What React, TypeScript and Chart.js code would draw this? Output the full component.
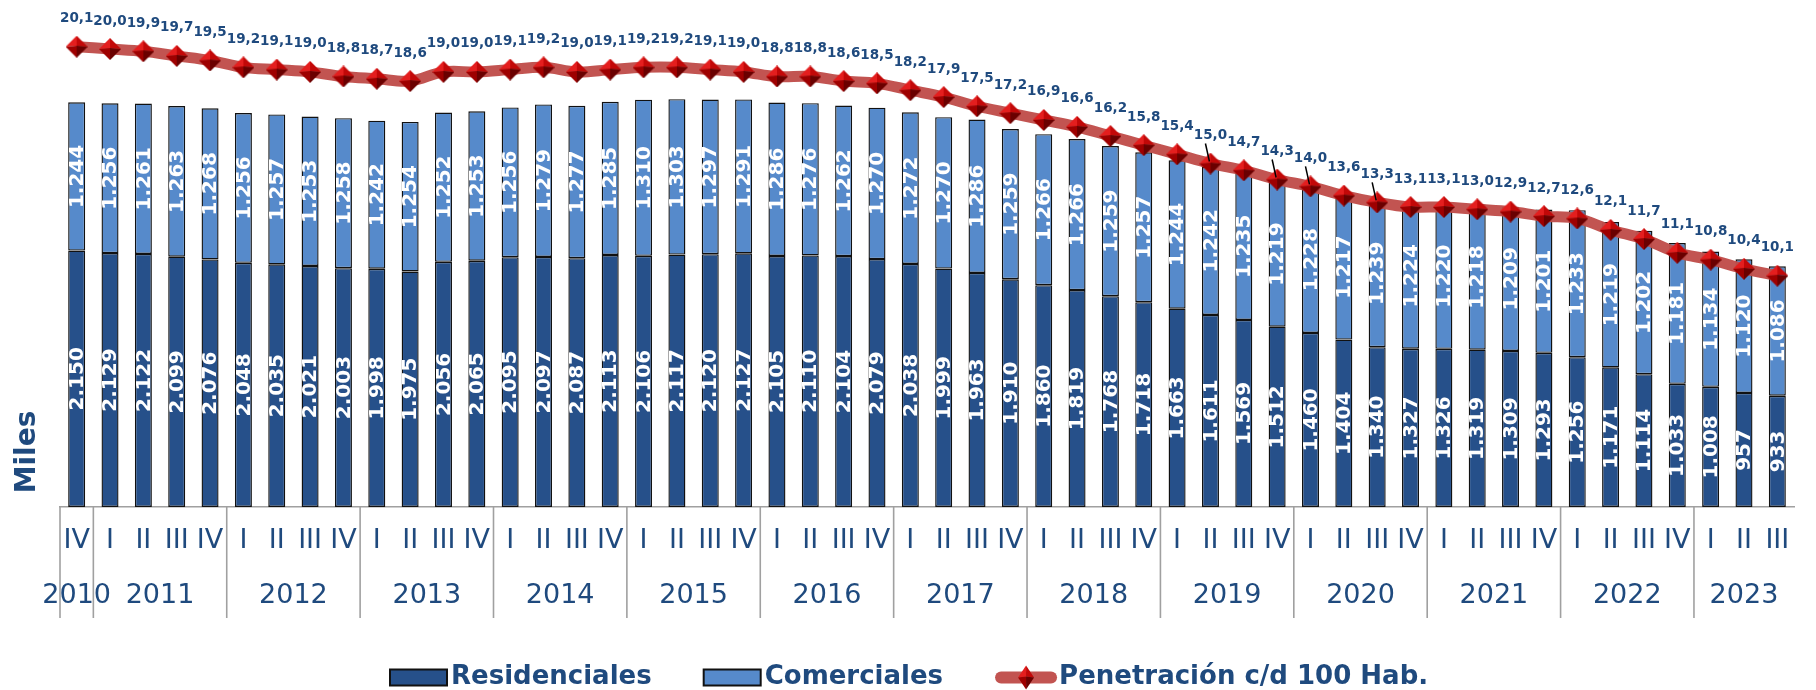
import React, { useEffect, useRef } from 'react';
import { Chart, registerables } from 'chart.js';

Chart.register(...registerables);

// ---------- DATA ----------
const years = ['2010', '2011', '2012', '2013', '2014', '2015', '2016', '2017', '2018', '2019', '2020', '2021', '2022', '2023'];
const quartersByYear = [
  ['IV'],
  ['I', 'II', 'III', 'IV'],
  ['I', 'II', 'III', 'IV'],
  ['I', 'II', 'III', 'IV'],
  ['I', 'II', 'III', 'IV'],
  ['I', 'II', 'III', 'IV'],
  ['I', 'II', 'III', 'IV'],
  ['I', 'II', 'III', 'IV'],
  ['I', 'II', 'III', 'IV'],
  ['I', 'II', 'III', 'IV'],
  ['I', 'II', 'III', 'IV'],
  ['I', 'II', 'III', 'IV'],
  ['I', 'II', 'III', 'IV'],
  ['I', 'II', 'III'],
];
const residenciales = [
  2150, 2129, 2122, 2099, 2076,
  2048, 2035, 2021, 2003,
  1998, 1975, 2056, 2065,
  2095, 2097, 2087, 2113,
  2106, 2117, 2120, 2127,
  2105, 2110, 2104, 2079,
  2038, 1999, 1963, 1910,
  1860, 1819, 1768, 1718,
  1663, 1611, 1569, 1512,
  1460, 1404, 1340, 1327,
  1326, 1319, 1309, 1293,
  1256, 1171, 1114, 1033,
  1008, 957, 933,
];
const comerciales = [
  1244, 1256, 1261, 1263, 1268,
  1256, 1257, 1253, 1258,
  1242, 1254, 1252, 1253,
  1256, 1279, 1277, 1285,
  1310, 1303, 1297, 1291,
  1286, 1276, 1262, 1270,
  1272, 1270, 1286, 1259,
  1266, 1266, 1259, 1257,
  1244, 1242, 1235, 1219,
  1228, 1217, 1239, 1224,
  1220, 1218, 1209, 1201,
  1233, 1219, 1202, 1181,
  1134, 1120, 1086,
];
const penetracion = [
  20.1, 20.0, 19.9, 19.7, 19.5,
  19.2, 19.1, 19.0, 18.8,
  18.7, 18.6, 19.0, 19.0,
  19.1, 19.2, 19.0, 19.1,
  19.2, 19.2, 19.1, 19.0,
  18.8, 18.8, 18.6, 18.5,
  18.2, 17.9, 17.5, 17.2,
  16.9, 16.6, 16.2, 15.8,
  15.4, 15.0, 14.7, 14.3,
  14.0, 13.6, 13.3, 13.1,
  13.1, 13.0, 12.9, 12.7,
  12.6, 12.1, 11.7, 11.1,
  10.8, 10.4, 10.1,
];
const leaderLabelIdx = [34, 36, 37, 39];
const seriesNames = ['Residenciales', 'Comerciales', 'Penetración c/d 100 Hab.'];
const axisTitle = 'Miles';

// ---------- STYLE ----------
const NAVY = '#1F4A7E';
const DARK = '#26508A';
const LIGHT = '#568ACB';
const RED = 'rgba(192,78,75,0.97)';
const FONT = '"DejaVu Sans", Verdana, sans-serif';

const fmtInt = (n: number) =>
  n >= 1000 ? `${Math.floor(n / 1000)}.${String(n % 1000).padStart(3, '0')}` : String(n);
const fmtDec = (v: number) => v.toFixed(1).replace('.', ',');

function drawDiamond(ctx: CanvasRenderingContext2D, cx: number, cy: number, w: number, h: number) {
  const l = cx - w / 2, r = cx + w / 2, t = cy - h / 2, b = cy + h / 2;
  const mx = cx, my = cy - h * 0.04;
  const facet = (pts: number[][], color: string) => {
    ctx.beginPath();
    ctx.moveTo(pts[0][0], pts[0][1]);
    for (let i = 1; i < pts.length; i++) ctx.lineTo(pts[i][0], pts[i][1]);
    ctx.closePath();
    ctx.fillStyle = color;
    ctx.fill();
  };
  facet([[l, cy], [cx, t], [mx, my]], '#E41E1E');
  facet([[cx, t], [r, cy], [mx, my]], '#C20808');
  facet([[l, cy], [cx, b], [mx, my]], '#9E0000');
  facet([[cx, b], [r, cy], [mx, my]], '#6A0000');
}

function makeDiamondCanvas(w: number, h: number) {
  const c = document.createElement('canvas');
  c.width = w;
  c.height = h;
  const ctx = c.getContext('2d')!;
  drawDiamond(ctx, w / 2, h / 2, w, h);
  return c;
}

export default function App() {
  const ref = useRef<HTMLCanvasElement | null>(null);

  useEffect(() => {
    if (!ref.current) return;
    const labels = quartersByYear.flat();
    const diamond = makeDiamondCanvas(22, 22);

    const overlay = {
      id: 'overlay',
      afterDatasetsDraw(chart: any) {
        const ctx = chart.ctx as CanvasRenderingContext2D;
        ctx.save();
        // bar value labels
        [0, 1].forEach((di) => {
          const meta = chart.getDatasetMeta(di);
          const values = di === 0 ? residenciales : comerciales;
          meta.data.forEach((bar: any, i: number) => {
            const { x, y, base } = bar.getProps(['x', 'y', 'base'], true);
            const cy = (y + base) / 2;
            ctx.save();
            ctx.translate(x + 1, cy);
            ctx.rotate(-Math.PI / 2);
            ctx.font = `bold 20px ${FONT}`;
            ctx.fillStyle = '#FFFFFF';
            ctx.textAlign = 'center';
            ctx.textBaseline = 'middle';
            ctx.fillText(fmtInt(values[i]), 0, 0);
            ctx.restore();
          });
        });
        // line value labels
        const lm = chart.getDatasetMeta(2);
        lm.data.forEach((pt: any, i: number) => {
          const { x, y } = pt.getProps(['x', 'y'], true);
          ctx.font = `bold 13.5px ${FONT}`;
          ctx.fillStyle = NAVY;
          ctx.textAlign = 'center';
          ctx.textBaseline = 'middle';
          ctx.fillText(fmtDec(penetracion[i]), x, y - 28);
          if (leaderLabelIdx.includes(i)) {
            ctx.beginPath();
            ctx.strokeStyle = '#000';
            ctx.lineWidth = 1.5;
            ctx.moveTo(x - 5, y - 20);
            ctx.lineTo(x - 1, y - 2);
            ctx.stroke();
          }
        });
        ctx.restore();
      },
      afterDraw(chart: any) {
        const ctx = chart.ctx as CanvasRenderingContext2D;
        const xs = chart.scales.x;
        const bottom = chart.chartArea.bottom;
        const half = (xs.getPixelForValue(1) - xs.getPixelForValue(0)) / 2;
        ctx.save();
        // year separators and year labels
        let start = 0;
        quartersByYear.forEach((qs, yi) => {
          const sx = xs.getPixelForValue(start) - half;
          ctx.beginPath();
          ctx.strokeStyle = '#A0A0A0';
          ctx.lineWidth = 1.6;
          ctx.moveTo(sx, bottom);
          ctx.lineTo(sx, 618);
          ctx.stroke();
          const cx = (xs.getPixelForValue(start) + xs.getPixelForValue(start + qs.length - 1)) / 2;
          ctx.font = `27px ${FONT}`;
          ctx.fillStyle = NAVY;
          ctx.textAlign = 'center';
          ctx.textBaseline = 'middle';
          ctx.fillText(years[yi], cx, 596);
          start += qs.length;
        });
        // y axis title
        ctx.save();
        ctx.translate(28, 452);
        ctx.rotate(-Math.PI / 2);
        ctx.font = `bold 28px ${FONT}`;
        ctx.fillStyle = NAVY;
        ctx.textAlign = 'center';
        ctx.textBaseline = 'middle';
        ctx.fillText(axisTitle, 0, 0);
        ctx.restore();
        // legend
        const ly = 677.5;
        ctx.font = `bold 26px ${FONT}`;
        ctx.textBaseline = 'middle';
        ctx.textAlign = 'left';
        let x = 390;
        [DARK, LIGHT].forEach((col, k) => {
          ctx.fillStyle = col;
          ctx.fillRect(x, ly - 8, 57, 16);
          ctx.strokeStyle = '#111';
          ctx.lineWidth = 2;
          ctx.strokeRect(x, ly - 8, 57, 16);
          ctx.fillStyle = NAVY;
          ctx.fillText(seriesNames[k], x + 61, ly);
          x = x + 61 + ctx.measureText(seriesNames[k]).width + 52;
        });
        ctx.beginPath();
        ctx.strokeStyle = RED;
        ctx.lineWidth = 12;
        ctx.lineCap = 'round';
        ctx.moveTo(x + 6, ly);
        ctx.lineTo(x + 56, ly);
        ctx.stroke();
        drawDiamond(ctx, x + 31, ly, 16, 24);
        ctx.fillStyle = NAVY;
        ctx.fillText(seriesNames[2], x + 64, ly);
        ctx.restore();
      },
    };

    const chart = new Chart(ref.current, {
      type: 'bar',
      data: {
        labels,
        datasets: [
          {
            type: 'bar',
            label: seriesNames[0],
            data: residenciales,
            backgroundColor: DARK,
            borderColor: '#111111',
            borderWidth: 1.4,
            borderSkipped: false,
            stack: 's',
            yAxisID: 'y',
            order: 1,
            categoryPercentage: 1,
            barPercentage: 0.51,
          },
          {
            type: 'bar',
            label: seriesNames[1],
            data: comerciales,
            backgroundColor: LIGHT,
            borderColor: '#111111',
            borderWidth: 1.4,
            borderSkipped: false,
            stack: 's',
            yAxisID: 'y',
            order: 1,
            categoryPercentage: 1,
            barPercentage: 0.51,
          },
          {
            type: 'line',
            label: seriesNames[2],
            data: penetracion,
            borderColor: RED,
            borderWidth: 11,
            tension: 0.35,
            pointStyle: diamond,
            pointRadius: 11,
            yAxisID: 'y1',
            order: 0,
            clip: false,
          } as any,
        ],
      },
      options: {
        responsive: false,
        animation: false,
        events: [],
        layout: { padding: { left: 60, right: 1, top: 30, bottom: 0 } },
        plugins: {
          legend: { display: false },
          tooltip: { enabled: false },
        },
        scales: {
          x: {
            type: 'category',
            offset: true,
            grid: { display: false, drawTicks: false },
            border: { display: true, color: '#A0A0A0', width: 1.6 },
            ticks: {
              autoSkip: false,
              maxRotation: 0,
              minRotation: 0,
              padding: 18,
              color: NAVY,
              font: { family: FONT, size: 27 },
            },
            afterFit: (scale: any) => {
              scale.height = 183;
            },
          },
          y: {
            stacked: true,
            display: false,
            min: 0,
            max: 4000,
          },
          y1: {
            display: false,
            min: 0,
            max: 20.83,
            position: 'right',
          },
        },
      } as any,
      plugins: [overlay],
    });
    return () => chart.destroy();
  }, []);

  return (
    <div style={{ position: 'fixed', left: 0, top: 0, width: 1816, height: 690, background: '#ffffff' }}>
      <canvas ref={ref} width={1816} height={690} style={{ display: 'block', width: 1816, height: 690 }} />
    </div>
  );
}
